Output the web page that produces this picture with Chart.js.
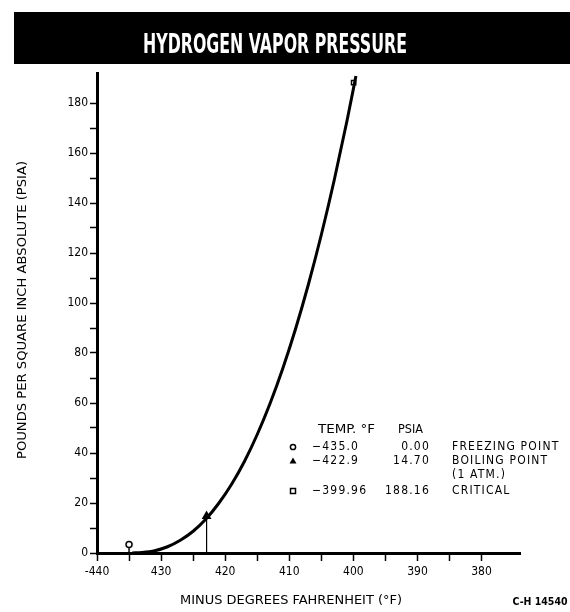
<!DOCTYPE html>
<html>
<head>
<meta charset="utf-8">
<title>Hydrogen Vapor Pressure</title>
<script src="https://cdn.jsdelivr.net/npm/chart.js@4.4.1/dist/chart.umd.min.js"></script>
<style>
  html, body { margin: 0; padding: 0; background: #fff; }
  #wrap { width: 570px; height: 612px; }
</style>
</head>
<body>
<div id="wrap"><canvas id="chart" width="570" height="612"></canvas></div>
<script>
// vapor pressure curve (deg F, psia)
const curveTemps = [-434.5, -433, -431, -429, -427, -425, -423, -421, -419, -417,
                    -415, -413, -411, -409, -407, -405, -403, -401, -399.6];
const curvePsia = [0, 0.2, 0.9, 2.5, 5.1, 8.7, 13.6, 19.9, 27.5, 36.6,
                   47.4, 59.8, 73.9, 89.8, 107.6, 127.3, 149.0, 172.8, 190.8];

// marked points and the table beside them
const pointTemps = [-435.0, -422.9, -399.96];
const pointTempDigits = [1, 1, 2];
const pointPsia = [0.00, 14.70, 188.16];
const pointNames = ['FREEZING POINT', 'BOILING POINT', 'CRITICAL'];
const pointNotes = ['', '(1 ATM.)', ''];

const xTickValues = [-440, -430, -420, -410, -400, -390, -380];
const xTickLabels = ['-440', '430', '420', '410', '400', '390', '380'];
const yTickValues = [0, 20, 40, 60, 80, 100, 120, 140, 160, 180];
const yTickLabels = ['0', '20', '40', '60', '80', '100', '120', '140', '160', '180'];

const FONT = '"DejaVu Sans Condensed", "DejaVu Sans", sans-serif';

// open circle sitting on a short stem; the stem foot is the point itself
function stemCircle() {
  const cv = document.createElement('canvas');
  cv.width = 10; cv.height = 26;
  const g = cv.getContext('2d');
  g.strokeStyle = '#000';
  g.lineWidth = 1.5;
  g.beginPath(); g.arc(5, 4.5, 3, 0, Math.PI * 2); g.stroke();
  g.beginPath(); g.moveTo(5, 7.5); g.lineTo(5, 13); g.stroke();
  return cv;
}

// draw text squeezed or stretched to a given width
function fitText(c, text, x, y, width, align) {
  const w = c.measureText(text).width;
  const sx = width / w;
  c.save();
  c.translate(x, y);
  c.scale(sx, 1);
  c.textAlign = align || 'center';
  c.fillText(text, 0, 0);
  c.restore();
}

function legendMark(c, i, x, y) {
  c.save();
  c.strokeStyle = '#000';
  c.fillStyle = '#000';
  c.lineWidth = 1.5;
  c.beginPath();
  if (i === 0) {
    c.arc(x, y, 2.6, 0, Math.PI * 2);
    c.stroke();
  } else if (i === 1) {
    c.moveTo(x, y - 3.5); c.lineTo(x + 3.5, y + 2.5); c.lineTo(x - 3.5, y + 2.5);
    c.closePath(); c.fill();
  } else {
    c.strokeRect(x - 2.5, y - 2.5, 5, 5);
  }
  c.restore();
}

const paperText = {
  id: 'paperText',
  beforeDraw(chart) {
    const c = chart.ctx;
    c.save();
    c.fillStyle = '#fff';
    c.fillRect(0, 0, chart.width, chart.height);
    c.restore();
  },
  afterDraw(chart) {
    const c = chart.ctx;
    c.save();
    // title band
    c.fillStyle = '#000';
    c.fillRect(14, 12, 556, 52);
    c.fillStyle = '#fff';
    c.font = 'bold 27px "DejaVu Sans Condensed", "DejaVu Sans", sans-serif';
    c.textBaseline = 'alphabetic';
    fitText(c, 'HYDROGEN VAPOR PRESSURE', 275, 53, 264);

    c.fillStyle = '#000';
    c.textBaseline = 'middle';
    // axis titles
    c.font = '11.5px ' + FONT;
    fitText(c, 'MINUS DEGREES FAHRENHEIT (\u00B0F)', 291, 601, 222);
    c.save();
    c.translate(23, 310);
    c.rotate(-Math.PI / 2);
    fitText(c, 'POUNDS PER SQUARE INCH ABSOLUTE (PSIA)', 0, 0, 298);
    c.restore();
    c.font = 'bold 10px ' + FONT;
    fitText(c, 'C-H 14540', 540, 602, 55);

    // point table
    c.font = '12px ' + FONT;
    fitText(c, 'TEMP. \u00B0F', 318, 430, 57, 'left');
    fitText(c, 'PSIA', 398, 430, 25, 'left');
    const rowY = [447, 461, 491];
    pointTemps.forEach((t, i) => {
      const y = rowY[i];
      legendMark(c, i, 293, y);
      const tTxt = t.toFixed(pointTempDigits[i]).replace('-', '\u2212');
      c.textAlign = 'left';
      c.letterSpacing = '1.2px';
      c.fillText(tTxt, 312, y);
      c.textAlign = 'right';
      c.fillText(pointPsia[i].toFixed(2), 430, y);
      c.letterSpacing = '1.2px';
      c.textAlign = 'left';
      c.fillText(pointNames[i], 452, y);
      if (pointNotes[i]) c.fillText(pointNotes[i], 452, y + 14);
      c.letterSpacing = '0px';
    });
    c.restore();
  }
};

const axisGrid = {
  drawOnChartArea: false,
  drawTicks: true,
  tickColor: '#000',
  tickWidth: 1.5
};

new Chart(document.getElementById('chart'), {
  type: 'scatter',
  data: {
    datasets: [{
      label: 'Vapor pressure',
      data: curveTemps.map((t, i) => ({ x: t, y: curvePsia[i] })),
      showLine: true,
      borderColor: '#000',
      borderWidth: 3,
      pointRadius: 0,
      cubicInterpolationMode: 'monotone'
    }, {
      label: 'Boiling drop line',
      data: [{ x: pointTemps[1], y: 0 }, { x: pointTemps[1], y: pointPsia[1] }],
      showLine: true,
      borderColor: '#000',
      borderWidth: 1.2,
      pointRadius: 0
    }, {
      label: 'Points',
      data: pointTemps.map((t, i) => ({ x: t, y: pointPsia[i] })),
      pointStyle: [stemCircle(), 'triangle', 'rect'],
      pointRadius: [6, 4.2, 3],
      backgroundColor: ['#000', '#000', 'rgba(0,0,0,0)'],
      borderColor: '#000',
      borderWidth: 1.5,
      clip: false
    }]
  },
  options: {
    responsive: false,
    animation: false,
    events: [],
    layout: { padding: { left: 0, right: 50, top: 73, bottom: 0 } },
    plugins: {
      legend: { display: false },
      tooltip: { enabled: false }
    },
    scales: {
      x: {
        type: 'linear',
        min: -440,
        max: -374,
        afterBuildTicks: axis => { axis.ticks = axis.ticks.filter(t => t.value % 5 === 0); },
        afterFit: scale => { scale.height = 59; },
        border: { display: true, color: '#000', width: 3 },
        grid: Object.assign({ tickLength: 8 }, axisGrid),
        ticks: {
          stepSize: 5,
          autoSkip: false,
          maxRotation: 0,
          color: '#000',
          padding: 4,
          font: { family: FONT, size: 12 },
          callback: v => {
            const i = xTickValues.indexOf(v);
            return i < 0 ? '' : xTickLabels[i];
          }
        }
      },
      y: {
        type: 'linear',
        min: 0,
        max: 192,
        afterBuildTicks: axis => { axis.ticks = axis.ticks.filter(t => t.value % 10 === 0); },
        afterFit: scale => { scale.width = 97; },
        border: { display: true, color: '#000', width: 3 },
        grid: Object.assign({ tickLength: 7 }, axisGrid),
        ticks: {
          stepSize: 10,
          autoSkip: false,
          color: '#000',
          padding: 2,
          font: { family: FONT, size: 12 },
          callback: v => {
            const i = yTickValues.indexOf(v);
            return i < 0 ? '' : yTickLabels[i];
          }
        }
      }
    }
  },
  plugins: [paperText]
});
</script>
</body>
</html>
